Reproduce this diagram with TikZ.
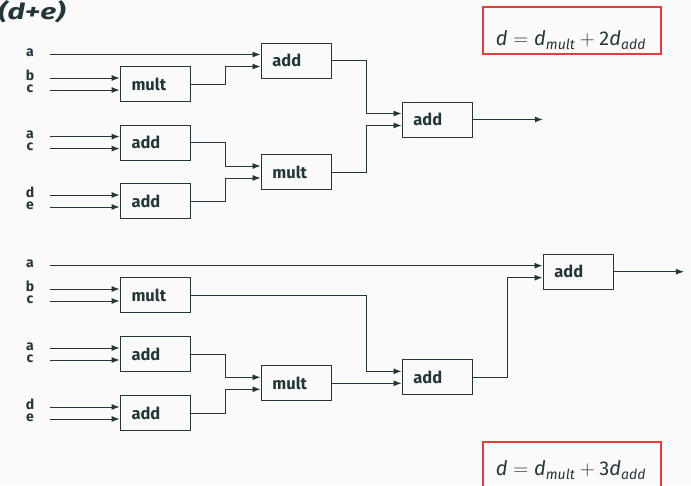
\documentclass[tikz,border=0pt]{standalone}
\usepackage{fontspec}
\setmainfont{Fira Sans}
\usetikzlibrary{arrows.meta}
\definecolor{bgc}{HTML}{FAFAFA}
\definecolor{ink}{HTML}{23373B}
\definecolor{framered}{HTML}{E53B3B}
\newcommand{\dsub}[1]{\textit{d}\textsubscript{\textit{#1}}}
\begin{document}
\begin{tikzpicture}[x=1pt,y=-1pt,
  blk/.style={draw=ink, line width=0.8pt, fill=bgc, minimum height=35pt,
    inner xsep=11.5pt, text width=47.6pt, align=left, text=ink,
    font=\fontsize{16.5}{19}\selectfont\bfseries},
  wire/.style={draw=ink, line width=0.9pt},
  arr/.style={wire, -{Latex[length=8pt,width=6pt]}},
  lbl/.style={anchor=base, inner sep=0pt, text=ink,
    font=\fontsize{14}{15}\selectfont\bfseries},
  redframe/.style={draw=framered, line width=2pt, minimum width=177.4pt,
    minimum height=47pt, inner sep=0pt},
  eq/.style={anchor=base, inner sep=0pt, text=ink,
    font=\fontsize{20}{24}\selectfont},
]
\useasboundingbox[fill=bgc] (0,0) rectangle (691,485);
\clip (0,0) rectangle (691,485);

% title fragment
\node[anchor=base west, inner sep=0pt, text=ink,
  font=\fontsize{22}{26}\selectfont\bfseries\itshape] (title) at (-2,19)
  {\scalebox{1.35}[1]{(d+e)}};

% columns
\def\ca{155.3}\def\cb{296.2}\def\cc{437.2}\def\cd{578.2}

% upper circuit
\node[blk] (m1) at (\ca,84)    {mult};
\node[blk] (a1) at (\cb,60.5)  {add};
\node[blk] (a2) at (\ca,142.6) {add};
\node[blk] (a3) at (\ca,201)   {add};
\node[blk] (m2) at (\cb,172)   {mult};
\node[blk] (a4) at (\cc,119.5) {add};

% lower circuit
\node[blk] (m3) at (\ca,295)   {mult};
\node[blk] (a5) at (\ca,354)   {add};
\node[blk] (a6) at (\ca,413)   {add};
\node[blk] (m4) at (\cb,383.3) {mult};
\node[blk] (a7) at (\cc,377.3) {add};
\node[blk] (a8) at (\cd,271.7) {add};

% two input ports on every block
\foreach \b in {m1,a1,a2,a3,m2,a4,m3,a5,a6,m4,a7,a8} {
  \coordinate (\b-1) at ([yshift=6pt]\b.west);
  \coordinate (\b-2) at ([yshift=-6pt]\b.west);
}

% primary inputs
\coordinate (lft) at (50,0);
\foreach \t/\s in {a1-1/a, m1-1/b, m1-2/c, a2-1/a, a2-2/c, a3-1/d, a3-2/e,
                   a8-1/a, m3-1/b, m3-2/c, a5-1/a, a5-2/c, a6-1/d, a6-2/e} {
  \coordinate (src-\t) at (\t -| lft);
  \node[lbl] (lab-\t) at ([xshift=-20pt,yshift=-2pt]src-\t) {\s};
  \draw[arr] (src-\t) -- (\t);
}

% upper wiring
\draw[arr] (m1.east) -| ([xshift=-35pt]a1-2) -- (a1-2);
\draw[arr] (a2.east) -| ([xshift=-35pt]m2-1) -- (m2-1);
\draw[arr] (a3.east) -| ([xshift=-35pt]m2-2) -- (m2-2);
\draw[arr] (a1.east) -| ([xshift=-35pt]a4-1) -- (a4-1);
\draw[arr] (m2.east) -| ([xshift=-35pt]a4-2) -- (a4-2);
\coordinate (out1) at ([xshift=70pt]a4.east);
\draw[arr] (a4.east) -- (out1);

% lower wiring
\draw[arr] (m3.east) -| ([xshift=-35pt]a7-1) -- (a7-1);
\draw[arr] (a5.east) -| ([xshift=-35pt]m4-1) -- (m4-1);
\draw[arr] (a6.east) -| ([xshift=-35pt]m4-2) -- (m4-2);
\draw[arr] (m4.east) -- (a7-2);
\draw[arr] (a7.east) -| ([xshift=-35pt]a8-2) -- (a8-2);
\coordinate (out2) at ([xshift=70pt]a8.east);
\draw[arr] (a8.east) -- (out2);

% delay annotations
\node[redframe] (f1) at (572,30.8) {};
\node[eq] (e1) at (571,45.7) {\textit{d}${}={}$\dsub{mult}${}+{}$2\dsub{add}};
\node[redframe] (f2) at (572,465.8) {};
\node[eq] (e2) at (571,475.7) {\textit{d}${}={}$\dsub{mult}${}+{}$3\dsub{add}};
\end{tikzpicture}
\end{document}
